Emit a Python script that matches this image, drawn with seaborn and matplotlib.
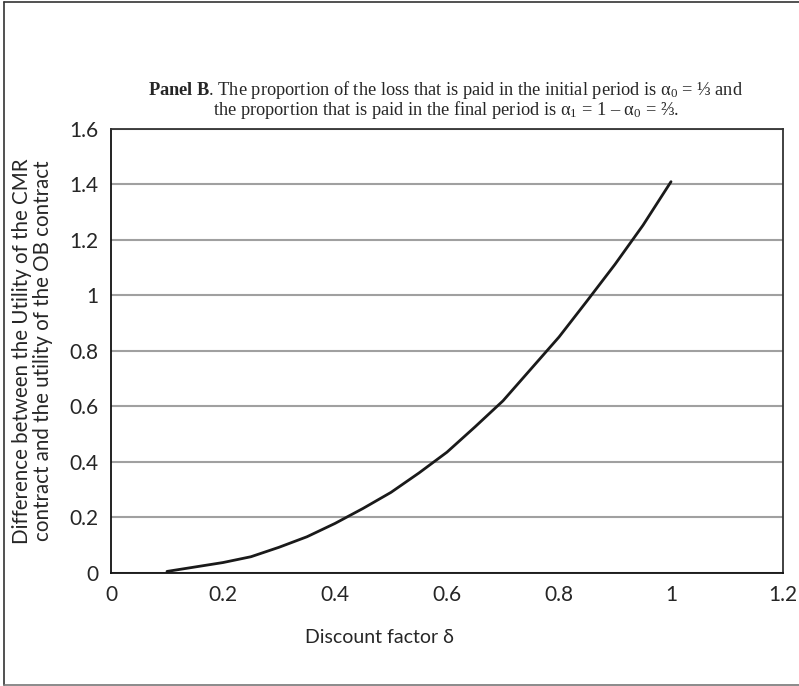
import seaborn as sns
import matplotlib.pyplot as plt
import pandas as pd
from matplotlib.lines import Line2D

delta = [0.1, 0.15, 0.2, 0.25, 0.3, 0.35, 0.4, 0.45, 0.5, 0.55,
         0.6, 0.65, 0.7, 0.75, 0.8, 0.85, 0.9, 0.95, 1.0]
diff = [0.005, 0.021, 0.037, 0.058, 0.092, 0.13, 0.178, 0.232, 0.29, 0.36,
        0.435, 0.526, 0.62, 0.735, 0.85, 0.98, 1.112, 1.253, 1.41]
xticks = [0, 0.2, 0.4, 0.6, 0.8, 1.0, 1.2]
xticklabels = ['0', '0.2', '0.4', '0.6', '0.8', '1', '1.2']
yticks = [0, 0.2, 0.4, 0.6, 0.8, 1.0, 1.2, 1.4, 1.6]
yticklabels = ['0', '0.2', '0.4', '0.6', '0.8', '1', '1.2', '1.4', '1.6']

df = pd.DataFrame({'delta': delta, 'diff': diff})

sns.set_style('white')
plt.rcParams['font.family'] = ['Lato', 'DejaVu Sans']
plt.rcParams['mathtext.fontset'] = 'custom'
plt.rcParams['mathtext.rm'] = 'Liberation Serif'
plt.rcParams['mathtext.bf'] = 'Liberation Serif:bold'
plt.rcParams['mathtext.it'] = 'Liberation Serif:italic'

fig = plt.figure(figsize=(7.99, 6.86), dpi=100)
ax = fig.add_axes([0.1389, 0.165, 0.8411, 0.647])

sns.lineplot(x='delta', y='diff', data=df, ax=ax, color='#1a1a1a', linewidth=2)

ax.set_xlim(0, 1.2)
ax.set_ylim(0, 1.6)
ax.set_xticks(xticks)
ax.set_xticklabels(xticklabels)
ax.set_yticks(yticks)
ax.set_yticklabels(yticklabels)
ax.tick_params(axis='both', direction='out', length=5, width=1, color='#222222',
               labelsize=15, pad=4)
ax.yaxis.grid(True, color='#a0a0a0', linewidth=1.5)
ax.set_axisbelow(True)
for side in ['left', 'bottom']:
    ax.spines[side].set_color('#111111')
    ax.spines[side].set_linewidth(1.3)
for side in ['top', 'right']:
    ax.spines[side].set_color('#333333')
    ax.spines[side].set_linewidth(1.3)

ax.set_xlabel('Discount factor δ', fontsize=14)
ax.xaxis.set_label_coords(0.40, -0.127)
ax.set_ylabel('Difference between the Utility of the CMR\ncontract and the utility of the OB contract',
              fontsize=14.8, linespacing=1.05)
ax.yaxis.set_label_coords(-0.087, 0.5)

serif = ['Liberation Serif', 'DejaVu Serif']
# two-line caption above the plot
fig.text(0.558, 0.869, r'$\mathbf{Panel\ B}$. The proportion of the loss that is paid in the initial period is α$_0$ = ⅓ and',
         ha='center', va='center', fontsize=13.2, family=serif)
fig.text(0.558, 0.840, 'the proportion that is paid in the final period is α$_1$ = 1 – α$_0$ = ⅔.',
         ha='center', va='center', fontsize=13.2, family=serif)

# outer frame
fig.add_artist(Line2D([4 / 799, 4 / 799], [0.0015, 1 - 2 / 686], transform=fig.transFigure,
                      color='#333333', linewidth=1.2))
fig.add_artist(Line2D([4 / 799, 1.0], [1 - 2 / 686, 1 - 2 / 686], transform=fig.transFigure,
                      color='#333333', linewidth=1.2))
fig.add_artist(Line2D([4 / 799, 1.0], [0.0015, 0.0015], transform=fig.transFigure,
                      color='#777777', linewidth=1.2))

fig.savefig('out.png', dpi=100)
